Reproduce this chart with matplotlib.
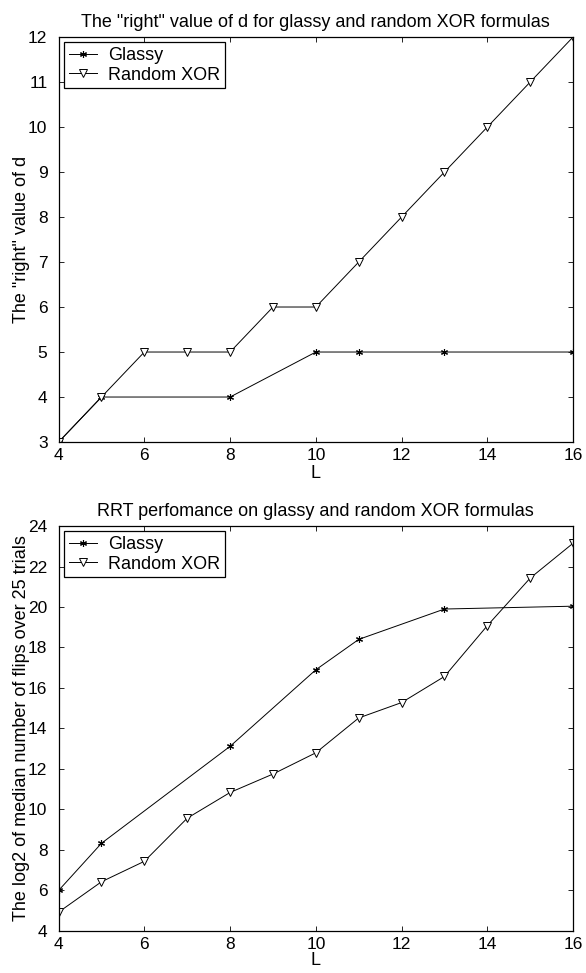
import matplotlib
matplotlib.use('Agg')
import matplotlib.pyplot as plt
import numpy as np

plt.rcParams['font.family'] = ['Liberation Sans', 'DejaVu Sans']
plt.rcParams['font.size'] = 12

# top panel: the "right" value of d
L_glassy = [4, 5, 8, 10, 11, 13, 16]
d_glassy = [3, 4, 4, 5, 5, 5, 5]
L_xor = [4, 5, 6, 7, 8, 9, 10, 11, 12, 13, 14, 15, 16]
d_xor = [3, 4, 5, 5, 5, 6, 6, 7, 8, 9, 10, 11, 12]

# bottom panel: log2 of median flips
flips_glassy = [6.0, 8.33, 13.12, 16.9, 18.4, 19.9, 20.04]
flips_xor = [4.93, 6.43, 7.44, 9.57, 10.84, 11.75, 12.8, 14.52, 15.28, 16.57, 19.08, 21.43, 23.15]

x_ticks = [4, 6, 8, 10, 12, 14, 16]
asterisk = (6, 2, 0)


def style_axes(ax):
    ax.tick_params(direction='in', top=True, right=True, length=3.5, width=0.6, labelsize=12.5)
    ax.tick_params(axis='x', pad=4)
    ax.tick_params(axis='y', pad=8)
    for s in ax.spines.values():
        s.set_linewidth(0.9)
    ax.set_xticks(x_ticks)
    ax.set_xlim(4, 16)


def draw(ax, y_glassy, y_xor):
    ax.plot(L_glassy, y_glassy, color='black', linewidth=0.7, marker=asterisk,
            markersize=5, markeredgewidth=0.8, label='Glassy')
    ax.plot(L_xor, y_xor, color='black', linewidth=0.7, marker='v', markersize=6,
            markerfacecolor='white', markeredgewidth=0.7, label='Random XOR')
    leg = ax.legend(loc='upper left', fancybox=False, framealpha=1, edgecolor='black',
                    handlelength=1.6, borderaxespad=0.3, borderpad=0.25, labelspacing=0.15,
                    handletextpad=0.6, fontsize=13)
    leg.get_frame().set_linewidth(0.9)


fig = plt.figure(figsize=(5.86, 9.73), dpi=100)

ax1 = fig.add_axes([0.100, 0.5457, 0.878, 0.4163])
draw(ax1, d_glassy, d_xor)
style_axes(ax1)
ax1.set_ylim(3, 12)
ax1.set_yticks(range(3, 13))
ax1.set_xlabel('L', fontsize=13, labelpad=2)
ax1.set_ylabel('The "right" value of d', fontsize=13, labelpad=-1)
ax1.set_title('The "right" value of d for glassy and random XOR formulas', fontsize=13, pad=7.5)

ax2 = fig.add_axes([0.100, 0.0432, 0.878, 0.4162])
draw(ax2, flips_glassy, flips_xor)
style_axes(ax2)
ax2.set_ylim(4, 24)
ax2.set_yticks(range(4, 25, 2))
ax2.set_xlabel('L', fontsize=13, labelpad=0)
ax2.set_ylabel('The log2 of median number of flips over 25 trials', fontsize=13, labelpad=-1)
ax2.set_title('RRT perfomance on glassy and random XOR formulas', fontsize=13, pad=7.5)

fig.savefig('out.png', dpi=100)
